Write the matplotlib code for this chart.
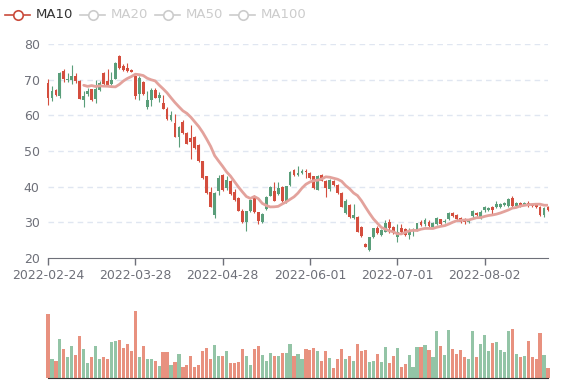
import numpy as np
import pandas as pd
import matplotlib
matplotlib.use("Agg")
import matplotlib.pyplot as plt
from matplotlib.lines import Line2D

# trading days (custom calendar so tick dates line up every 22 sessions)
dates = pd.bdate_range("2022-02-24", periods=127, freq="C",
                       holidays=["2022-04-15", "2022-05-02", "2022-05-30"])
labels = [d.strftime("%Y-%m-%d") for d in dates]

opens = [65.0, 66.9, 65.8, 72.0, 70.2, 70.3, 70.9, 69.7, 64.7, 65.5,
         66.9, 64.4, 67.3, 69.2, 68.8, 68.5, 70.0, 74.8, 73.2, 72.8,
         72.4, 72.2, 65.5, 70.6, 65.9, 64.4, 67.1, 65.0, 65.6, 61.9,
         58.9, 60.0, 54.0, 56.6, 55.1, 52.1, 52.5, 50.9, 47.1, 42.4,
         38.2, 34.4, 38.2, 42.5, 39.0, 42.0, 37.9, 36.4, 33.3, 30.0,
         33.1, 36.3, 32.8, 30.4, 32.3, 37.0, 39.9, 36.1, 39.7, 36.1,
         40.1, 44.1, 43.2, 43.9, 44.3, 44.1, 42.4, 39.5, 42.9, 41.7,
         39.5, 41.9, 40.5, 38.1, 34.4, 36.0, 31.4, 32.0, 27.4, 26.1,
         23.1, 25.9, 28.3, 27.0, 27.9, 29.7, 28.3, 27.0, 27.4, 27.4,
         26.5, 27.4, 27.9, 29.7, 29.3, 30.6, 29.0, 29.7, 31.1, 29.5,
         30.5, 32.7, 31.7, 30.8, 30.2, 30.2, 30.8, 33.2, 32.1, 32.9,
         34.3, 33.9, 33.4, 35.2, 35.2, 35.3, 36.6, 34.5, 35.4, 34.5,
         35.4, 34.5, 34.5, 34.3, 32.0, 33.9, 33.4]
highs = [70.2, 68.1, 67.5, 72.2, 73.0, 71.8, 74.1, 72.0, 70.0, 66.9,
         67.8, 67.5, 70.0, 69.7, 72.2, 73.0, 72.2, 75.0, 76.9, 74.4,
         74.8, 72.9, 71.3, 71.1, 69.7, 66.9, 67.6, 67.6, 66.5, 65.6,
         62.2, 61.1, 60.3, 57.0, 58.7, 55.3, 57.2, 54.2, 52.1, 47.3,
         43.1, 40.0, 38.4, 43.3, 43.5, 42.9, 41.9, 39.3, 37.0, 33.7,
         33.3, 36.6, 37.8, 32.9, 32.6, 37.3, 40.1, 41.2, 41.2, 40.2,
         40.3, 44.4, 45.0, 45.7, 45.0, 44.9, 44.0, 43.0, 43.3, 43.5,
         41.9, 42.2, 41.9, 40.7, 38.5, 36.5, 35.2, 35.2, 31.8, 29.0,
         24.2, 26.0, 28.5, 28.9, 28.1, 30.6, 30.9, 29.0, 29.5, 29.6,
         28.4, 28.3, 28.4, 29.9, 30.6, 31.3, 30.6, 30.0, 31.4, 31.0,
         30.8, 33.0, 33.0, 32.4, 31.4, 31.1, 31.0, 33.4, 33.0, 33.4,
         34.5, 34.2, 34.5, 35.9, 35.5, 35.6, 36.9, 37.5, 35.6, 35.6,
         35.6, 36.1, 35.1, 35.1, 34.5, 34.2, 34.5]
lows = [62.9, 64.1, 65.5, 65.0, 69.3, 69.3, 68.8, 69.2, 64.5, 62.2,
        65.5, 64.1, 63.4, 66.9, 68.5, 68.3, 68.5, 70.2, 73.0, 72.3,
        72.1, 72.1, 64.6, 64.4, 65.6, 61.9, 62.6, 64.8, 63.6, 61.7,
        58.7, 58.4, 53.8, 51.2, 54.9, 51.9, 47.8, 50.5, 46.8, 42.2,
        38.0, 34.2, 31.2, 37.8, 38.8, 39.0, 37.7, 36.1, 33.1, 29.8,
        27.5, 33.0, 32.6, 29.5, 29.8, 33.5, 37.3, 35.9, 37.8, 35.8,
        35.5, 40.2, 42.9, 43.0, 43.6, 42.5, 42.2, 39.3, 39.0, 41.5,
        37.2, 38.9, 40.3, 37.9, 34.2, 32.3, 31.1, 31.0, 27.2, 25.9,
        23.0, 22.0, 25.7, 26.8, 26.3, 27.2, 27.0, 26.8, 24.4, 26.8,
        26.3, 25.3, 26.3, 27.7, 28.9, 28.9, 28.8, 28.4, 29.2, 29.3,
        29.9, 30.6, 31.5, 30.6, 29.9, 29.6, 29.9, 31.1, 31.8, 30.8,
        32.9, 33.2, 32.4, 34.1, 34.1, 34.6, 34.3, 34.3, 34.3, 34.2,
        34.9, 34.3, 34.3, 34.0, 31.7, 31.4, 33.2]
closes = [69.2, 65.0, 67.1, 65.5, 72.5, 70.0, 70.0, 70.9, 69.7, 64.4,
          66.1, 67.3, 64.5, 67.2, 71.8, 69.7, 68.8, 70.3, 76.7, 73.9,
          73.2, 72.6, 71.1, 65.9, 69.4, 62.2, 64.4, 67.2, 65.0, 63.4,
          61.9, 58.7, 57.8, 54.0, 58.0, 55.1, 53.6, 54.0, 51.8, 47.1,
          42.9, 38.4, 32.1, 38.8, 43.3, 39.5, 41.6, 38.6, 36.7, 33.3,
          30.0, 33.1, 37.5, 32.8, 30.0, 33.7, 37.5, 38.9, 38.0, 39.9,
          35.7, 40.4, 44.6, 43.4, 43.9, 44.5, 43.8, 42.9, 39.1, 43.3,
          41.7, 39.3, 41.7, 40.5, 38.3, 32.5, 34.8, 31.2, 31.6, 28.8,
          24.0, 22.2, 25.9, 28.3, 26.5, 27.4, 30.2, 28.8, 25.9, 28.3,
          28.1, 26.5, 27.5, 27.9, 30.2, 29.5, 30.2, 28.6, 29.5, 30.8,
          30.1, 30.8, 32.7, 32.0, 31.1, 30.8, 30.2, 31.7, 32.7, 31.1,
          33.4, 33.4, 34.3, 34.3, 34.3, 34.9, 34.5, 36.9, 34.5, 35.4,
          35.0, 35.4, 35.0, 35.0, 34.3, 32.0, 34.3]
volumes = [62, 18, 17, 38, 28, 20, 31, 22, 41, 28,
           15, 20, 31, 18, 20, 18, 35, 36, 37, 29,
           33, 26, 65, 20, 31, 18, 18, 17, 12, 25,
           25, 13, 16, 23, 11, 13, 21, 11, 13, 26,
           29, 18, 32, 21, 21, 26, 15, 15, 16, 28,
           21, 13, 28, 31, 22, 17, 24, 21, 21, 24,
           24, 33, 21, 23, 18, 28, 27, 29, 26, 17,
           26, 19, 10, 18, 28, 18, 21, 17, 33, 26,
           27, 16, 17, 23, 16, 30, 15, 21, 29, 11,
           14, 22, 11, 30, 30, 32, 27, 20, 46, 31,
           22, 47, 28, 23, 27, 20, 18, 46, 20, 33,
           42, 26, 34, 35, 27, 25, 46, 48, 23, 20,
           21, 36, 20, 18, 44, 22, 10]

up_c, down_c = "#d44e3e", "#5a9e7a"
up_v, down_v = "#e8917f", "#93c4a6"

o = np.array(opens)
c = np.array(closes)
h = np.array(highs)
l = np.array(lows)
x = np.arange(len(o))
up = c >= o
ma10 = pd.Series(c).rolling(10).mean()

fig = plt.figure(figsize=(5.77, 3.86), dpi=100)
ax = fig.add_axes([48 / 577, 128 / 386, 500 / 577, 214 / 386])
axv = fig.add_axes([48 / 577, 8 / 386, 500 / 577, 70 / 386])

# price panel
for yv in range(30, 81, 10):
    ax.axhline(yv, color="#e0e6f1", lw=1, ls=(0, (4, 3)), zorder=0)
cols = np.where(up, up_c, down_c)
ax.vlines(x, l, h, colors=cols, lw=0.8, zorder=2, clip_on=False)
body_lo = np.minimum(o, c)
body_h = np.maximum(np.abs(c - o), 0.15)
ax.bar(x, body_h, bottom=body_lo, width=0.72, color=cols, lw=0, zorder=3,
       clip_on=False)
ax.plot(x, ma10, color="#e3a29c", lw=2.0, zorder=4, solid_capstyle="round")

ax.set_xlim(0, len(o) - 1)
ax.set_ylim(20, 80)
ax.set_yticks(range(20, 81, 10))
ax.tick_params(axis="y", length=0, labelsize=9, colors="#6e7079", pad=6)
tick_idx = list(range(0, len(o), 22))
ax.set_xticks(tick_idx)
ax.set_xticklabels([labels[i] for i in tick_idx])
ax.tick_params(axis="x", length=5, width=1, color="#6e7079", labelsize=9,
               labelcolor="#6e7079", pad=3)
for s in ["top", "right", "left"]:
    ax.spines[s].set_visible(False)
ax.spines["bottom"].set_color("#6e7079")

# volume panel
axv.bar(x, volumes, width=0.8, color=np.where(up, up_v, down_v), lw=0,
        clip_on=False)
axv.set_xlim(0, len(o) - 1)
axv.set_ylim(0, 68)
axv.set_xticks([])
axv.set_yticks([])
for s in ["top", "right", "left"]:
    axv.spines[s].set_visible(False)
axv.spines["bottom"].set_color("#333333")

# legend
names = ["MA10", "MA20", "MA50", "MA100"]
starts = [5, 80, 155, 230]
for k, (name, sx) in enumerate(zip(names, starts)):
    col = "#c94a3b" if k == 0 else "#cccccc"
    tcol = "#333333" if k == 0 else "#cccccc"
    yy = 1 - 15 / 386
    fig.add_artist(Line2D([sx / 577, (sx + 25) / 577], [yy, yy], color=col,
                          lw=1.2, transform=fig.transFigure))
    fig.add_artist(Line2D([(sx + 13) / 577], [yy], marker="o", ms=6.8,
                          mfc="white", mec=col, mew=1.2,
                          transform=fig.transFigure))
    fig.text((sx + 31) / 577, yy, name, color=tcol, fontsize=9.5,
             va="center", ha="left")

fig.savefig("out.png", dpi=100)
